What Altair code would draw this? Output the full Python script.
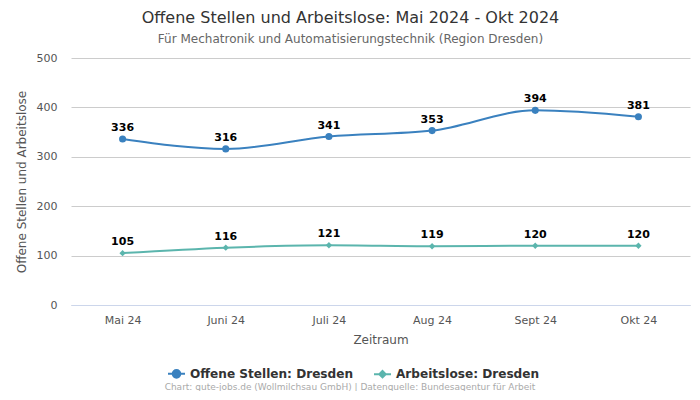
import altair as alt
import pandas as pd

months = ["Mai 24", "Juni 24", "Juli 24", "Aug 24", "Sept 24", "Okt 24"]
offene = [336, 316, 341, 353, 394, 381]
arbeitslose = [105, 116, 121, 119, 120, 120]
series_names = ["Offene Stellen: Dresden", "Arbeitslose: Dresden"]
colors = ["#3a81bf", "#5bb5ad"]
y_ticks = [0, 100, 200, 300, 400, 500]
footer_text = "Chart: gute-jobs.de (Wollmilchsau GmbH) | Datenquelle: Bundesagentur für Arbeit"

rows = []
for m, v in zip(months, offene):
    rows.append({"Monat": m, "Wert": v, "Serie": series_names[0]})
for m, v in zip(months, arbeitslose):
    rows.append({"Monat": m, "Wert": v, "Serie": series_names[1]})
df = pd.DataFrame(rows)

FONT = "DejaVu Sans"

x_enc = alt.X("Monat:O", sort=months,
              scale=alt.Scale(type="point", padding=0.5),
              axis=alt.Axis(title="Zeitraum", labelAngle=0, ticks=False,
                            domainColor="#ccd6eb", labelColor="#555555",
                            labelFontSize=11, titleFontSize=12,
                            titleColor="#555555", titleFontWeight="normal",
                            labelPadding=9, titlePadding=9))
y_enc = alt.Y("Wert:Q",
              scale=alt.Scale(domain=[0, 500], nice=False),
              axis=alt.Axis(title="Offene Stellen und Arbeitslose", values=y_ticks,
                            ticks=False, domain=False, gridColor="#cccccc",
                            labelColor="#555555", labelFontSize=11,
                            titleFontSize=12, titleColor="#555555",
                            titleFontWeight="normal", labelPadding=14,
                            titlePadding=8))

base = alt.Chart(df)

layers = []
for name, col, shp, sz in zip(series_names, colors, ["circle", "diamond"], [50, 40]):
    sub = base.transform_filter(alt.datum.Serie == name)
    layers.append(sub.mark_line(interpolate="monotone", strokeWidth=2, color=col).encode(
        x=x_enc, y=y_enc))
    layers.append(sub.mark_point(shape=shp, filled=True, size=sz, opacity=1, color=col).encode(
        x=x_enc, y=y_enc))

labels = base.mark_text(dy=-11, fontWeight="bold", fontSize=11, color="#000000",
                        font=FONT).encode(
    x=x_enc, y=y_enc, text="Wert:Q"
)
layers.append(labels)

circle_path = ("M-1,0L1,0M0.45,0A0.45,0.45 0 1,1 -0.45,0"
               "A0.45,0.45 0 1,1 0.45,0Z")
diamond_path = "M-1,0L1,0M0,-0.38L0.38,0L0,0.38L-0.38,0Z"

leg = alt.Legend(title=None, orient="none", direction="horizontal",
                 legendX=96, legendY=306,
                 labelFontSize=12.1, labelFontWeight="bold",
                 labelColor="#333333", symbolSize=289, labelLimit=300,
                 symbolStrokeWidth=2, columnPadding=16, symbolOpacity=1,
                 labelFont=FONT)

legend_layer = base.mark_point(
    filled=True, strokeWidth=2, opacity=0
).encode(
    x=x_enc, y=y_enc,
    fill=alt.Fill("Serie:N", scale=alt.Scale(domain=series_names, range=colors),
                  legend=leg),
    stroke=alt.Stroke("Serie:N", scale=alt.Scale(domain=series_names, range=colors),
                      legend=leg),
    shape=alt.Shape("Serie:N", scale=alt.Scale(domain=series_names,
                                               range=[circle_path, diamond_path]),
                    legend=leg),
)
layers.append(legend_layer)

footer = alt.Chart(pd.DataFrame({"t": [footer_text]})).mark_text(
    fontSize=9, color="#aaaaaa", font=FONT, align="center", baseline="middle"
).encode(text="t:N", x=alt.value(279), y=alt.value(329))
layers.append(footer)

chart = alt.layer(*layers).properties(
    width=619, height=247,
    padding={"left": 63, "top": 50, "right": 2, "bottom": 86},
    autosize=alt.AutoSizeParams(type="none"),
    title=alt.TitleParams(
        text="Offene Stellen und Arbeitslose: Mai 2024 - Okt 2024",
        subtitle="Für Mechatronik und Automatisierungstechnik (Region Dresden)",
        fontSize=16, fontWeight="normal", color="#333333", font=FONT,
        subtitleFontSize=12, subtitleColor="#666666", subtitleFont=FONT,
        subtitlePadding=8, anchor="middle", dx=-30, offset=7
    )
).configure_view(stroke=None).configure_axis(labelFont=FONT, titleFont=FONT)

chart.save("out.html", embed_options={"renderer": "svg", "actions": False})
